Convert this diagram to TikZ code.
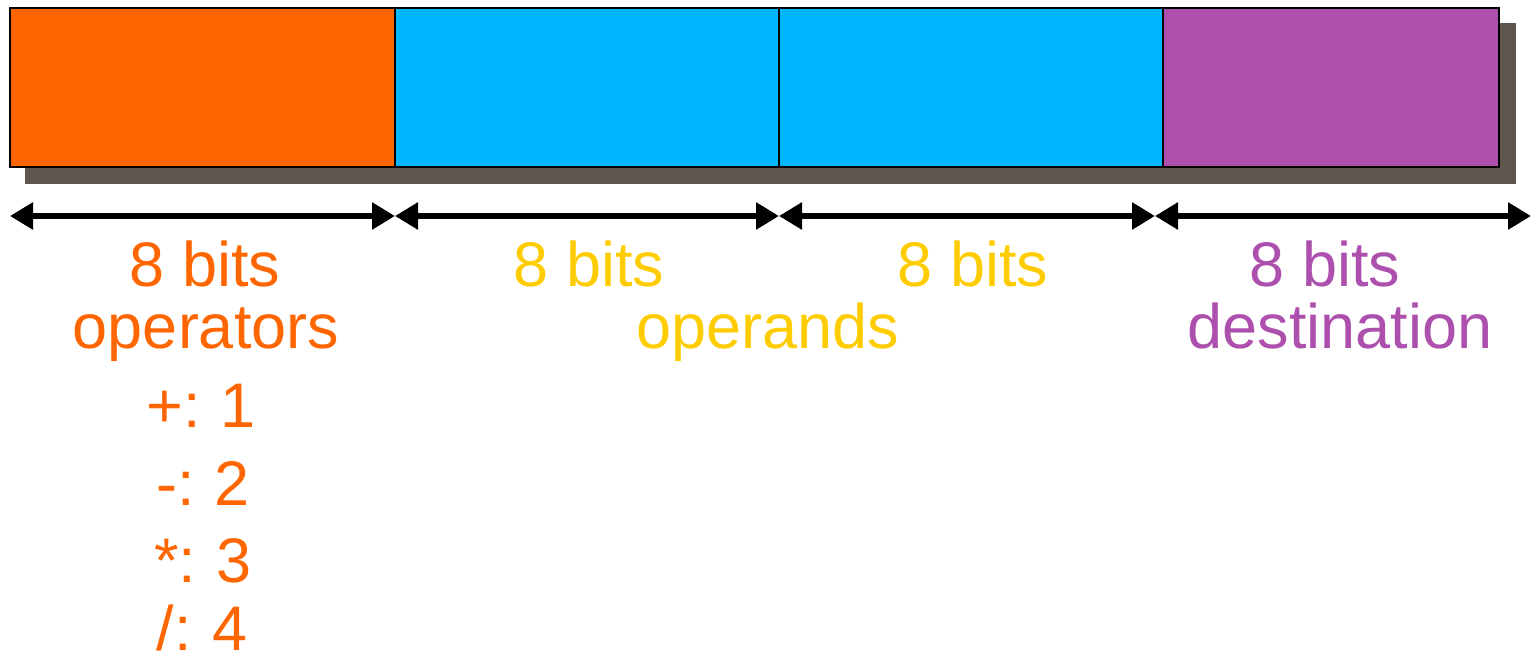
\documentclass[tikz,border=0pt]{standalone}
\usepackage{fontspec}
\setmainfont{Liberation Sans}
\usetikzlibrary{arrows.meta}
\definecolor{cOrange}{HTML}{FF6600}
\definecolor{cCyan}{HTML}{00B7FF}
\definecolor{cPurple}{HTML}{AD50AD}
\definecolor{cYellow}{HTML}{FFCC00}
\definecolor{cShadow}{HTML}{5F574F}
\begin{document}
\begin{tikzpicture}[x=1pt,y=-1pt,
  field/.style={draw=black,line width=2pt,minimum height=159pt,inner sep=0pt,outer sep=0pt,anchor=north west},
  span/.style={line width=6pt,{Triangle[length=23pt,width=26pt]}-{Triangle[length=23pt,width=26pt]}},
  lbl/.style={anchor=base,inner sep=0pt,font=\fontsize{63}{63}\selectfont}]
\useasboundingbox (0,0) rectangle (1538,660);
% shadow
\fill[cShadow] (25,23) rectangle (1516,184);
% fields
\node[field,fill=cOrange,minimum width=385pt] (f1) at (10,8) {};
\node[field,fill=cCyan,minimum width=384pt] (f2) at (395,8) {};
\node[field,fill=cCyan,minimum width=384pt] (f3) at (779,8) {};
\node[field,fill=cPurple,minimum width=336pt] (f4) at (1163,8) {};
% arrow end points
\coordinate (p0) at (10,216);
\coordinate (p1) at (395,216);
\coordinate (p2) at (779,216);
\coordinate (p3) at (1155,216);
\coordinate (p4) at (1531,216);
\draw[span] (p0) -- (p1);
\draw[span] (p1) -- (p2);
\draw[span] (p2) -- (p3);
\draw[span] (p3) -- (p4);
% labels
\node[lbl,text=cOrange] (t1) at (205,287) {8 bits};
\node[lbl,text=cOrange] (t2) at (206,348) {operators};
\node[lbl,text=cOrange] (t3) at (201,427) {+:\hspace{0.32em}1};
\node[lbl,text=cOrange] (t4) at (203,505) {-:\hspace{0.32em}2};
\node[lbl,text=cOrange] (t5) at (203,582) {*:\hspace{0.32em}3};
\node[lbl,text=cOrange] (t6) at (202,650) {/:\hspace{0.32em}4};
\node[lbl,text=cYellow] (y1) at (589,287) {8 bits};
\node[lbl,text=cYellow] (y2) at (973,287) {8 bits};
\node[lbl,text=cYellow] (y3) at (768,348) {operands};
\node[lbl,text=cPurple] (d1) at (1325,287) {8 bits};
\node[lbl,text=cPurple] (d2) at (1340,348) {destination};
\end{tikzpicture}
\end{document}
